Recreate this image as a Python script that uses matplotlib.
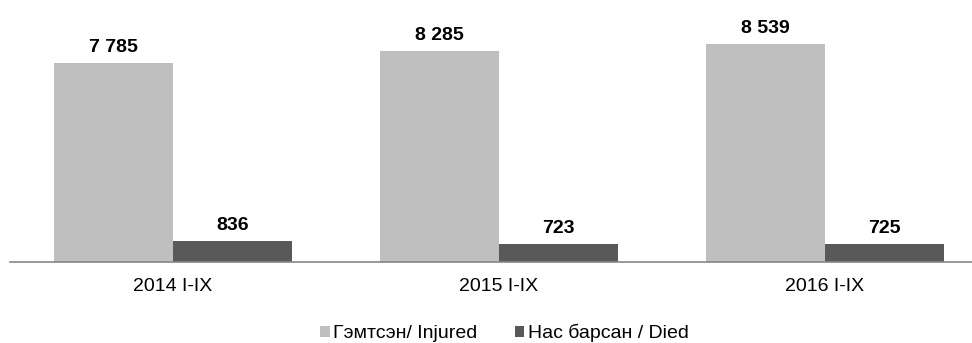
import numpy as np
import matplotlib
matplotlib.use("Agg")
import matplotlib.pyplot as plt

plt.rcParams["font.family"] = ["Liberation Sans", "DejaVu Sans"]

periods = ["2014 I-IX", "2015 I-IX", "2016 I-IX"]
injured = [7785, 8285, 8539]
died = [836, 723, 725]
series_names = ["Гэмтсэн/ Injured", "Нас барсан / Died"]
colors = ["#bfbfbf", "#595959"]


def fmt(v):
    return f"{v:,}".replace(",", " ")


fig = plt.figure(figsize=(9.72, 3.43), dpi=100)
W, H = 972, 343
# axes runs past the right edge so category spacing stays even
ax = fig.add_axes([10 / W, (H - 262.3) / H, 978 / W, 262.3 / H])

x = np.arange(len(periods))
bw = 0.365
bars1 = ax.bar(x - bw / 2, injured, bw, color=colors[0], label=series_names[0])
bars2 = ax.bar(x + bw / 2, died, bw, color=colors[1], label=series_names[1])

for bars, vals in [(bars1, injured), (bars2, died)]:
    for b, v in zip(bars, vals):
        ax.annotate(fmt(v), (b.get_x() + b.get_width() / 2, v),
                    xytext=(0, 8), textcoords="offset points",
                    ha="center", va="baseline", fontsize=14, fontweight="bold")

ax.set_xlim(-0.5, 2.5)
ax.set_ylim(0, 262.3 / 0.02555)
ax.set_xticks(x)
ax.set_xticklabels(periods, fontsize=14)
ax.tick_params(axis="x", length=0, pad=11)
ax.set_yticks([])
for s in ["top", "right", "left"]:
    ax.spines[s].set_visible(False)
ax.spines["bottom"].set_color("#868686")
ax.spines["bottom"].set_linewidth(1.2)

fig.legend(loc="center", bbox_to_anchor=(504.5 / W, (H - 333) / H), ncol=2,
           frameon=False, fontsize=14, handlelength=0.5, handleheight=0.5,
           handletextpad=0.2, columnspacing=1.9, borderpad=0)

fig.savefig("out.png", dpi=100)
